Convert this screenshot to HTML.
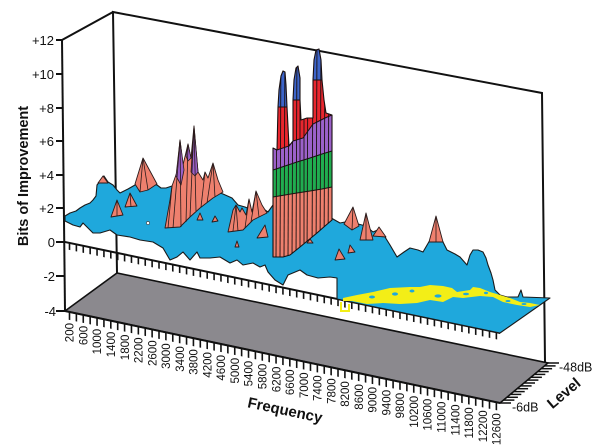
<!DOCTYPE html>
<html><head><meta charset="utf-8">
<style>
html,body{margin:0;padding:0;background:#fff;}
svg{display:block;}
text{font-family:"Liberation Sans",Arial,sans-serif;fill:#111;}
</style></head>
<body>
<svg width="600" height="447" viewBox="0 0 600 447" xmlns="http://www.w3.org/2000/svg">
<defs>
<clipPath id="tallclip">
<polygon points="273,257 273,148 277,150 278,107 279,90 281,76 283,71 285,72 286,85 287,107 289,146 293,141 293,100 294,80 296,68 298,66 300,78 300,100 301,120 307,118 313,118 313,80 314,60 316,50 319,49 321,60 322,80 324,100 326,113 332,115 332,220 325,226 317,233 300,247 290,255 283,257"/>
</clipPath>
</defs>
<rect width="600" height="447" fill="#fff"/>

<!-- floor -->
<polygon points="65,311 117,273 548,363 500,403" fill="#8b898e" stroke="#111" stroke-width="1.6"/>
<line x1="65" y1="311" x2="500" y2="403" stroke="#111" stroke-width="2"/>

<!-- walls -->
<polyline points="117,273 113,12 542,93 545,362" fill="none" stroke="#111" stroke-width="2"/>
<line x1="62" y1="40" x2="113" y2="12" stroke="#111" stroke-width="2"/>
<line x1="62" y1="40" x2="65" y2="311" stroke="#111" stroke-width="2"/>

<!-- y ticks -->
<g stroke="#111" stroke-width="2">
<line x1="56" y1="40" x2="62" y2="40"/>
<line x1="56" y1="74" x2="62.4" y2="74"/>
<line x1="56" y1="108" x2="62.8" y2="108"/>
<line x1="56" y1="141" x2="63.1" y2="141"/>
<line x1="56" y1="175" x2="63.5" y2="175"/>
<line x1="56" y1="208" x2="63.9" y2="208"/>
<line x1="56" y1="242" x2="64.2" y2="242"/>
<line x1="56" y1="276" x2="64.6" y2="276"/>
<line x1="56" y1="311" x2="65" y2="311"/>
</g>
<g font-size="13" text-anchor="end">
<text x="54" y="45">+12</text>
<text x="54" y="79">+10</text>
<text x="54" y="113">+8</text>
<text x="54" y="146">+6</text>
<text x="54" y="180">+4</text>
<text x="54" y="213">+2</text>
<text x="55" y="247">0</text>
<text x="55" y="281">-2</text>
<text x="56" y="316">-4</text>
</g>
<text transform="translate(28,176) rotate(-90)" font-size="14.5" font-weight="bold" text-anchor="middle">Bits of Improvement</text>

<!-- zero level tick row -->
<g transform="translate(65,242) skewY(11.82)">
<line x1="0" y1="0" x2="435" y2="0" stroke="#111" stroke-width="2"/>
<line x1="3.7" y1="3.5" x2="436" y2="3.5" stroke="#111" stroke-width="7" stroke-dasharray="1.6 5.285"/>
</g>

<!-- front floor ticks -->
<g transform="translate(65,311) skewY(11.94)">
<line x1="3.7" y1="4" x2="436" y2="4" stroke="#111" stroke-width="8" stroke-dasharray="1.6 5.285"/>
</g>

<!-- level ticks -->
<g stroke="#111" stroke-width="1.5">
<line x1="500" y1="403" x2="511" y2="403"/>
<line x1="503.4" y1="400.1" x2="514.4" y2="400.1"/>
<line x1="506.9" y1="397.3" x2="517.9" y2="397.3"/>
<line x1="510.3" y1="394.4" x2="521.3" y2="394.4"/>
<line x1="513.7" y1="391.6" x2="524.7" y2="391.6"/>
<line x1="517.1" y1="388.7" x2="528.1" y2="388.7"/>
<line x1="520.6" y1="385.9" x2="531.6" y2="385.9"/>
<line x1="524" y1="383" x2="535" y2="383"/>
<line x1="527.4" y1="380.1" x2="538.4" y2="380.1"/>
<line x1="530.9" y1="377.3" x2="541.9" y2="377.3"/>
<line x1="534.3" y1="374.4" x2="545.3" y2="374.4"/>
<line x1="537.7" y1="371.6" x2="548.7" y2="371.6"/>
<line x1="541.1" y1="368.7" x2="552.1" y2="368.7"/>
<line x1="544.6" y1="365.9" x2="555.6" y2="365.9"/>
<line x1="548" y1="363" x2="559" y2="363"/>
</g>
<g font-size="12.5">
<text x="559" y="371.5">-48dB</text>
<text x="512" y="411.5">-6dB</text>
</g>
<text transform="translate(567,397) rotate(-40)" font-size="15" font-weight="bold" text-anchor="middle">Level</text>

<!-- frequency labels -->
<g font-size="11.5" text-anchor="end">
<text transform="translate(73.7,323) rotate(-90)">200</text>
<text transform="translate(87.5,325.9) rotate(-90)">600</text>
<text transform="translate(101.2,328.8) rotate(-90)">1000</text>
<text transform="translate(115,331.7) rotate(-90)">1400</text>
<text transform="translate(128.8,334.6) rotate(-90)">1800</text>
<text transform="translate(142.6,337.5) rotate(-90)">2200</text>
<text transform="translate(156.3,340.4) rotate(-90)">2600</text>
<text transform="translate(170.1,343.3) rotate(-90)">3000</text>
<text transform="translate(183.9,346.2) rotate(-90)">3400</text>
<text transform="translate(197.6,349.2) rotate(-90)">3800</text>
<text transform="translate(211.4,352.1) rotate(-90)">4200</text>
<text transform="translate(225.2,355) rotate(-90)">4600</text>
<text transform="translate(238.9,357.9) rotate(-90)">5000</text>
<text transform="translate(252.7,360.8) rotate(-90)">5400</text>
<text transform="translate(266.5,363.7) rotate(-90)">5800</text>
<text transform="translate(280.3,366.6) rotate(-90)">6200</text>
<text transform="translate(294,369.5) rotate(-90)">6600</text>
<text transform="translate(307.8,372.5) rotate(-90)">7000</text>
<text transform="translate(321.6,375.4) rotate(-90)">7400</text>
<text transform="translate(335.3,378.3) rotate(-90)">7800</text>
<text transform="translate(349.1,381.2) rotate(-90)">8200</text>
<text transform="translate(362.9,384.1) rotate(-90)">8600</text>
<text transform="translate(376.6,387) rotate(-90)">9000</text>
<text transform="translate(390.4,389.9) rotate(-90)">9400</text>
<text transform="translate(404.2,392.8) rotate(-90)">9800</text>
<text transform="translate(418,395.8) rotate(-90)">10200</text>
<text transform="translate(431.7,398.7) rotate(-90)">10600</text>
<text transform="translate(445.5,401.6) rotate(-90)">11000</text>
<text transform="translate(459.3,404.5) rotate(-90)">11400</text>
<text transform="translate(473,407.4) rotate(-90)">11800</text>
<text transform="translate(486.8,410.3) rotate(-90)">12200</text>
<text transform="translate(500.6,413.2) rotate(-90)">12600</text>
</g>
<text transform="translate(284,415) rotate(12)" font-size="15" font-weight="bold" text-anchor="middle">Frequency</text>

<!-- blue surface -->
<polygon fill="#1fa8dc" stroke="#1a1a1a" stroke-width="1.1" stroke-linejoin="round" points="65,216 70,213 76,211 80,208 85,205 90,203 93,200 96,196 97,185 101,180 104,176 108,182 113,185 117,190 120,193 128,189 135,185 143,182 150,184 157,185 161,188 166,188 172,186 200,185 223,194 232,198 238,205 245,207 252,210 262,208 268,212 273,205 300,200 333,219 340,223 345,222 352,220 358,224 366,226 373,232 380,229 385,237 390,245 397,257 404,252 410,248 418,250 423,252 430,240 436,234 442,240 447,250 455,254 460,257 467,265 470,255 473,250 478,250 483,252 486,258 488,265 491,273 493,280 495,290 500,295 507,297 518,297 521,290 523,297 550,298 500,333 337,299 337,278 330,277 318,278 307,275 300,270 288,275 283,285 275,280 268,272 265,265 260,267 253,263 243,265 237,260 230,263 220,257 210,258 200,258 197,252 190,260 183,252 177,257 170,260 163,248 153,242 140,240 130,237 117,235 110,230 100,233 93,233 88,228 83,223 80,227 73,225 65,221"/>
<circle cx="148" cy="223" r="1.6" fill="#fff" stroke="#333" stroke-width="0.6"/>

<!-- yellow -->
<polygon fill="#f3ee17" points="343,298 357,295 373,292 390,288 410,287 420,287 430,285 443,286 452,288 457,292 470,290 473,287 480,288 490,292 500,295 510,298 520,302 530,303 540,305 530,307 517,305 503,302 493,297 480,296 463,298 453,297 443,302 430,300 417,303 400,304 383,303 367,304 352,301 343,301"/>
<g fill="#1fa8dc">
<ellipse cx="372" cy="297" rx="3" ry="1.5"/>
<ellipse cx="395" cy="294" rx="3" ry="1.6"/>
<ellipse cx="412" cy="291" rx="2.5" ry="1.5"/>
<ellipse cx="438" cy="296" rx="3.5" ry="1.6"/>
<ellipse cx="466" cy="294" rx="3" ry="1.3"/>
<ellipse cx="486" cy="293" rx="2" ry="1.2"/>
<ellipse cx="508" cy="301" rx="2.5" ry="1"/>
<ellipse cx="524" cy="304" rx="2.5" ry="1"/>
</g>
<path d="M341,302 L341,311 L349,311 L349,304" fill="none" stroke="#f3ee17" stroke-width="2"/>

<!-- salmon spikes -->
<g fill="#ee806e" stroke="#2a1a1a" stroke-width="0.9" stroke-linejoin="round">
<polygon points="98,183 103,176 108,183"/>
<polygon points="111,217 117,200 123,215"/>
<polygon points="125,207 130,193 137,206"/>
<polygon points="135,184 143,158 157,184 148,190 140,192"/>
<polygon points="165,228 170,200 172,186 177,172 180,140 183,165 188,144 191,158 194,126 198,172 203,180 205,172 208,178 213,163 218,180 223,192 213,198 200,208 190,217 180,227"/>
<polygon points="228,232 233,210 236,205 240,212 242,208 246,215 249,199 252,212 256,191 262,205 267,213 253,220 243,230"/>
<polygon points="197,220 200,213 203,220"/>
<polygon points="212,222 215,216 218,221"/>
<polygon points="257,238 265,225 268,237"/>
<polygon points="235,247 237,241 239,247"/>
<polygon points="335,260 339,249 345,259"/>
<polygon points="348,253 350,245 355,252"/>
<polygon points="344,224 353,207 359,226 352,230"/>
<polygon points="360,240 366,213 373,240"/>
<polygon points="373,236 379,227 386,237"/>
<polygon points="429,242 436,216 443,242"/>
<polygon points="307,243 310,239 313,243"/>
</g>
<!-- purple tips of cluster -->
<g fill="#9b61c9" stroke="#2a1a1a" stroke-width="0.8" stroke-linejoin="round">
<polygon points="176,176 180,140 184,170 181,185"/>
<polygon points="186,156 188,144 191,158 188,161"/>
<polygon points="191,172 194,126 198,172 195,176"/>
</g>
<!-- stripes -->
<g stroke="#2a1a1a" stroke-width="0.8" fill="none">
<line x1="117" y1="200" x2="117" y2="216"/>
<line x1="130" y1="193" x2="131" y2="207"/>
<line x1="143" y1="158" x2="140" y2="192"/>
<line x1="143" y1="158" x2="148" y2="190"/>
<line x1="180" y1="140" x2="173" y2="228"/>
<line x1="180" y1="140" x2="181" y2="227"/>
<line x1="188" y1="144" x2="186" y2="222"/>
<line x1="194" y1="126" x2="190" y2="217"/>
<line x1="194" y1="126" x2="196" y2="211"/>
<line x1="205" y1="172" x2="201" y2="207"/>
<line x1="213" y1="163" x2="207" y2="203"/>
<line x1="213" y1="163" x2="215" y2="197"/>
<line x1="172" y1="186" x2="168" y2="228"/>
<line x1="236" y1="205" x2="233" y2="231"/>
<line x1="236" y1="205" x2="238" y2="231"/>
<line x1="249" y1="199" x2="245" y2="228"/>
<line x1="256" y1="191" x2="251" y2="222"/>
<line x1="256" y1="191" x2="259" y2="217"/>
<line x1="366" y1="213" x2="366" y2="240"/>
<line x1="436" y1="216" x2="436" y2="242"/>
<line x1="353" y1="207" x2="352" y2="230"/>
</g>

<!-- tall structure -->
<g clip-path="url(#tallclip)">
<rect x="270" y="40" width="70" height="230" fill="#e8262e"/>
<polygon fill="#9b61c9" points="273,148 277,150 289,146 293,141 303,138 313,124 325,118 332,115 332,151 273,170"/>
<polygon fill="#20ad50" points="273,170 332,151 332,187 273,197"/>
<polygon fill="#ee806e" points="273,197 332,187 332,260 273,260"/>
<polygon fill="#3c64c9" points="276,107 279,60 289,60 289,107"/>
<polygon fill="#3c64c9" points="291,100 294,55 302,55 302,100"/>
<polygon fill="#3c64c9" points="311,80 314,40 324,40 324,80"/>
<g stroke="#1a1010" stroke-width="0.9">
<line x1="277" y1="40" x2="276" y2="260"/>
<line x1="281" y1="40" x2="280" y2="260"/>
<line x1="285" y1="40" x2="284" y2="260"/>
<line x1="289" y1="40" x2="288" y2="260"/>
<line x1="293" y1="40" x2="292" y2="260"/>
<line x1="297" y1="40" x2="296" y2="260"/>
<line x1="300" y1="40" x2="300" y2="260"/>
<line x1="304" y1="40" x2="304" y2="260"/>
<line x1="308" y1="40" x2="307" y2="260"/>
<line x1="313" y1="40" x2="312" y2="260"/>
<line x1="317" y1="40" x2="316" y2="260"/>
<line x1="321" y1="40" x2="320" y2="260"/>
<line x1="325" y1="40" x2="324" y2="260"/>
<line x1="329" y1="40" x2="328" y2="260"/>
</g>
<g stroke="#1a1010" stroke-width="1" fill="none">
<polyline points="273,170 285,166 297,162 310,158 322,154 332,151"/>
<polyline points="273,197 285,195 297,193 310,191 322,189 332,187"/>
<polyline points="273,148 277,150 289,146 293,141 303,138 313,124 325,118 332,115"/>
<polyline points="278,107 287,107"/>
<polyline points="293,100 300,100"/>
<polyline points="313,80 322,80"/>
</g>
</g>
<polygon fill="none" stroke="#1a1010" stroke-width="1.1" stroke-linejoin="round" points="273,257 273,148 277,150 278,107 279,90 281,76 283,71 285,72 286,85 287,107 289,146 293,141 293,100 294,80 296,68 298,66 300,78 300,100 301,120 307,118 313,118 313,80 314,60 316,50 319,49 321,60 322,80 324,100 326,113 332,115 332,220 325,226 317,233 300,247 290,255 283,257"/>
</svg>
</body></html>
